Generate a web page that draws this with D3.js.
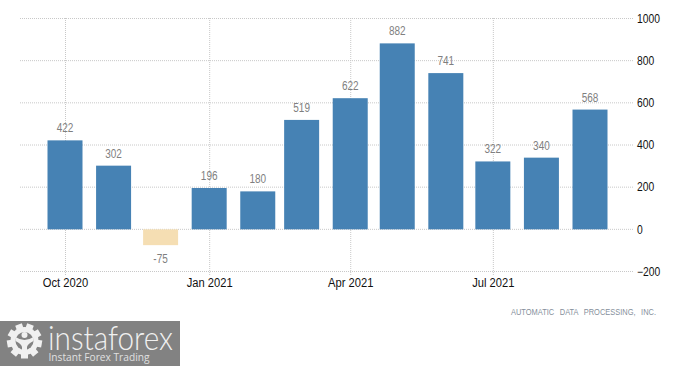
<!DOCTYPE html>
<html>
<head>
<meta charset="utf-8">
<script src="https://cdn.jsdelivr.net/npm/d3@7"></script>
<style>
html, body { margin: 0; padding: 0; background: #fff; }
svg { display: block; }
text { font-family: "Liberation Sans", Arial, sans-serif; }
</style>
</head>
<body>
<svg id="chart" width="700" height="366"></svg>
<script>
// data
var months = ["2020-10-01", "2020-11-01", "2020-12-01", "2021-01-01", "2021-02-01", "2021-03-01",
    "2021-04-01", "2021-05-01", "2021-06-01", "2021-07-01", "2021-08-01", "2021-09-01"];
var values = [422, 302, -75, 196, 180, 519, 622, 882, 741, 322, 340, 568];
var yTicks = [-200, 0, 200, 400, 600, 800, 1000];
var xTicks = ["2020-10-01", "2021-01-01", "2021-04-01", "2021-07-01"];
var source = "AUTOMATIC DATA PROCESSING, INC.";

var parse = d3.utcParse("%Y-%m-%d");
var svg = d3.select("#chart");

// the reference font is narrower than Liberation, squeeze the glyphs to fit
function squeeze(sel, factor) {
    sel.each(function() {
        d3.select(this)
            .attr("textLength", this.getComputedTextLength() * factor)
            .attr("lengthAdjust", "spacingAndGlyphs");
    });
}

// scales
var x = d3.scaleUtc()
    .domain([parse("2020-10-01"), parse("2021-09-01")])
    .range([65.5, 590.5]);
var y = d3.scaleLinear()
    .domain([-200, 1000])
    .range([271.5, 18.5]);
var barWidth = 35;

//--------------------------GRID------------------------------------------------
var yAxis = d3.axisRight(y)
    .offset(0)
    .tickValues(yTicks)
    .tickSize(613)
    .tickFormat(d3.format("d"));
var gy = svg.append("g")
    .attr("transform", "translate(20,0)")
    .call(yAxis);
gy.select(".domain").remove();
gy.selectAll("line")
    .attr("stroke", "#c8c8c8")
    .attr("stroke-dasharray", "1,1");
gy.selectAll("text")
    .attr("x", 617)
    .attr("dy", "0.36em")
    .attr("fill", "#111")
    .style("font-size", "12px")
    .call(squeeze, 0.86);

var xAxis = d3.axisBottom(x)
    .offset(0)
    .tickValues(xTicks.map(parse))
    .tickSize(257)
    .tickFormat(d3.utcFormat("%b %Y"));
var gx = svg.append("g")
    .attr("transform", "translate(0,18)")
    .call(xAxis);
gx.select(".domain").remove();
gx.selectAll("line")
    .attr("stroke", "#c8c8c8")
    .attr("stroke-dasharray", "1,1");
gx.selectAll("text")
    .attr("y", 269)
    .attr("dy", "0")
    .attr("fill", "#111")
    .style("font-size", "12px")
    .call(squeeze, 0.93);

//--------------------------BARS------------------------------------------------
var rows = months.map(function(m, i) { return { date: parse(m), value: values[i] }; });

svg.selectAll(".bar")
    .data(rows)
    .enter().append("rect")
    .attr("class", "bar")
    .attr("x", function(d) { return x(d.date) - barWidth / 2 - 0.5; })
    .attr("y", function(d) { return y(Math.max(d.value, 0)); })
    .attr("width", barWidth)
    .attr("height", function(d) { return Math.abs(y(d.value) - y(0)); })
    .attr("fill", function(d) { return d.value < 0 ? "#f5deb3" : "#4682b4"; });

svg.selectAll(".label")
    .data(rows)
    .enter().append("text")
    .attr("class", "label")
    .attr("x", function(d) { return x(d.date) - 0.5; })
    .attr("y", function(d) { return d.value < 0 ? y(d.value) + 18 : y(d.value) - 8; })
    .attr("text-anchor", "middle")
    .attr("fill", "#7f7f7f")
    .style("font-size", "12.5px")
    .text(function(d) { return d.value; })
    .call(squeeze, 0.8);

//--------------------------SOURCE----------------------------------------------
svg.append("text")
    .attr("x", 511)
    .attr("y", 315)
    .attr("textLength", 145)
    .attr("lengthAdjust", "spacingAndGlyphs")
    .attr("fill", "#858f9b")
    .style("font-size", "8.5px")
    .style("word-spacing", "4px")
    .text(source);

//--------------------------LOGO------------------------------------------------
var logo = svg.append("g").attr("transform", "translate(0,321)");
var logoBg = "#828282";
var logoFg = "#f0f0f0";
logo.append("rect")
    .attr("width", 180)
    .attr("height", 45)
    .attr("fill", logoBg);

// gear with the figure inside
var gear = logo.append("g").attr("transform", "translate(24.5,20)");
gear.selectAll(".tooth")
    .data(d3.range(9).map(function(i) { return i * 40 + 20; }))
    .enter().append("rect")
    .attr("x", -3.5)
    .attr("y", -17.5)
    .attr("width", 7)
    .attr("height", 7)
    .attr("fill", logoFg)
    .attr("transform", function(d) { return "rotate(" + d + ")"; });
gear.append("circle").attr("r", 14).attr("fill", logoFg);
gear.append("circle").attr("r", 9).attr("fill", logoBg);
gear.append("circle").attr("r", 3).attr("cy", -6).attr("fill", logoFg);
gear.append("path")
    .attr("d", "M-9,-4 Q0,2 9,-4 L9,0 Q3,3 2.5,6 L2.5,17 L-2.5,17 L-2.5,6 Q-3,3 -9,0 Z")
    .attr("fill", logoFg);

logo.append("text")
    .attr("x", 48)
    .attr("y", 28.5)
    .attr("textLength", 125)
    .attr("lengthAdjust", "spacingAndGlyphs")
    .attr("fill", logoFg)
    .style("font-family", "Lato, sans-serif")
    .style("font-weight", 300)
    .style("font-size", "33px")
    .text("instaforex");

logo.append("text")
    .attr("x", 48.5)
    .attr("y", 39.5)
    .attr("textLength", 101)
    .attr("lengthAdjust", "spacingAndGlyphs")
    .attr("fill", "#e0e0e0")
    .style("font-family", "'Open Sans', sans-serif")
    .style("font-size", "10.5px")
    .text("Instant Forex Trading");
</script>
</body>
</html>
